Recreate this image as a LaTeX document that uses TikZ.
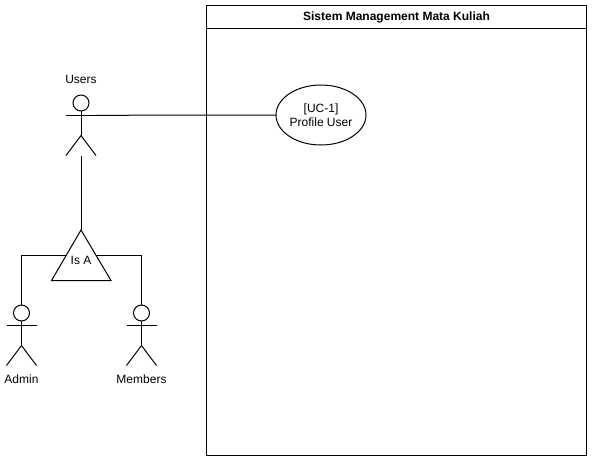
\documentclass[tikz,border=0pt]{standalone}
\usepackage{fontspec}
\setmainfont{Liberation Sans}
\usetikzlibrary{calc,shapes.geometric}
\tikzset{
  line/.style={draw=black,line width=1pt},
  head/.style={circle,draw=black,line width=1pt,fill=white,minimum size=16pt,inner sep=0pt,outer sep=0pt},
  txt/.style={font=\fontsize{12}{14}\selectfont,text=black,inner sep=0pt,align=center},
}
\newcommand{\myactor}[3]{% name, x, head y
  \node[head] (#1) at (#2,#3) {};
  \coordinate (#1neck) at (#2,#3+12.3);
  \coordinate (#1armL) at (#2-15,#3+12.3);
  \coordinate (#1armR) at (#2+15,#3+12.3);
  \coordinate (#1hip) at (#2,#3+32.5);
  \coordinate (#1legL) at (#2-15,#3+52.5);
  \coordinate (#1legR) at (#2+15,#3+52.5);
  \draw[line] (#1.south) -- (#1hip);
  \draw[line] (#1armL) -- (#1armR);
  \draw[line,line join=miter] (#1legL) -- (#1hip) -- (#1legR);
}
\begin{document}
\begin{tikzpicture}[x=1pt,y=-1pt]
\useasboundingbox (0,0) rectangle (593,461);
% system boundary
\coordinate (boxTL) at (206.5,5.5);
\coordinate (boxBR) at (586.5,455.5);
\draw[line] (boxTL) rectangle (boxBR);
\coordinate (hdrL) at (206.5,28);
\coordinate (hdrR) at (586.5,28);
\draw[line] (hdrL) -- (hdrR);
\node[txt,font=\fontsize{12}{14}\selectfont\bfseries] (title) at (396.5,17) {Sistem Management Mata Kuliah};
% use case
\node[ellipse,draw=black,line width=1pt,minimum width=90pt,minimum height=60pt,inner sep=0pt,outer sep=0pt,txt] (uc) at (321,115) {[UC-1]\\[0.5pt]Profile User};
% actors
\myactor{users}{81}{103}
\myactor{admin}{21.5}{313}
\myactor{members}{141.5}{313}
\node[txt] (usersLabel) at (81,79.5) {Users};
\node[txt] (adminLabel) at (21.5,379.5) {Admin};
\node[txt] (membersLabel) at (141.5,379.5) {Members};
% Is A triangle
\coordinate (triTop) at (81,230);
\coordinate (triL) at (51.5,280.5);
\coordinate (triR) at (111,280.5);
\draw[line,line join=miter] (triTop) -- (triR) -- (triL) -- cycle;
\node[txt] (isa) at (81,260) {Is A};
\coordinate (triEdgeL) at (66.2,255.5);
\coordinate (triEdgeR) at (96.2,255.5);
% connectors
\draw[line] (usersarmR) -- (uc.west);
\draw[line] (userslegL -| triTop) -- (triTop);
\draw[line] (triEdgeL) -| (admin.north);
\draw[line] (triEdgeR) -| (members.north);
\end{tikzpicture}
\end{document}
